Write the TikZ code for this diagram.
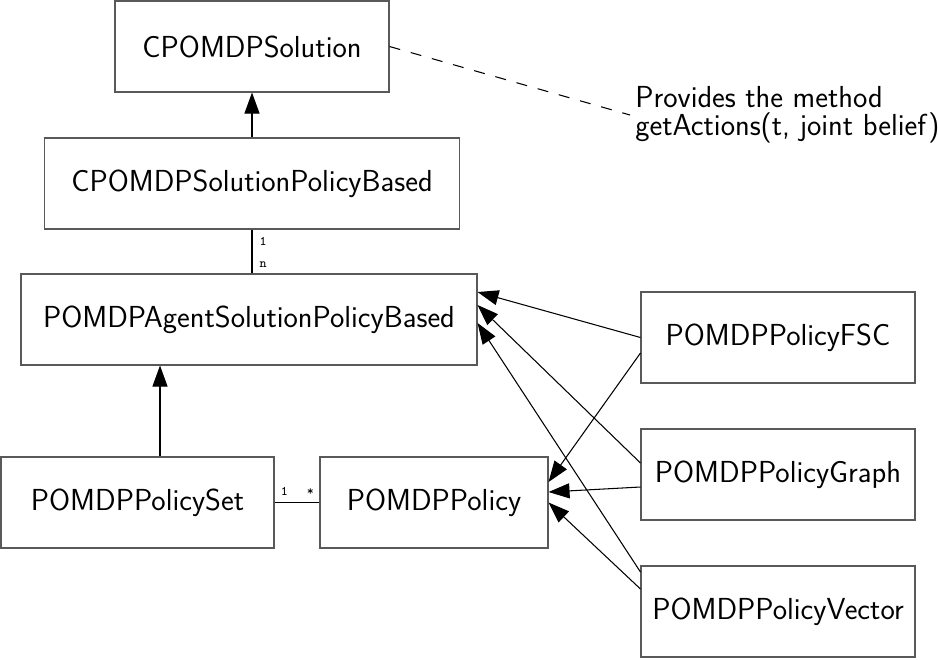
\documentclass[tikz,border=0pt]{standalone}
\usepackage{tikz}
\usetikzlibrary{arrows.meta}

\begin{document}
\begin{tikzpicture}[
        cls/.style={draw=black!65,line width=0.6pt,minimum height=1.82cm,inner sep=0pt,font=\fontsize{17.3}{18}\sffamily},
        inh/.style={-{Triangle[length=0.42cm,width=0.3cm]},line width=0.6pt},
        assoc/.style={line width=0.6pt},
        mult/.style={font=\fontsize{7.5}{8}\ttfamily,inner sep=0pt},
        remark/.style={font=\fontsize{17.3}{16}\sffamily,align=left,inner sep=0.1cm}
    ]
            \useasboundingbox (0,0) rectangle (18.76,-13.18);

            % classes
            \node[cls,minimum width=5.48cm] (sol) at (5.04,-0.93) {CPOMDPSolution};
            \node[cls,minimum width=8.3cm] (solpb) at (5.04,-3.67) {CPOMDPSolutionPolicyBased};
            \node[cls,minimum width=9.12cm] (agent) at (4.98,-6.39) {POMDPAgentSolutionPolicyBased};
            \node[cls,minimum width=5.46cm] (set) at (2.75,-10.05) {POMDPPolicySet};
            \node[cls,minimum width=4.56cm] (policy) at (8.68,-10.05) {POMDPPolicy};
            \node[cls,minimum width=5.48cm] (fsc) at (15.56,-6.75) {POMDPPolicyFSC};
            \node[cls,minimum width=5.48cm] (graph) at (15.56,-9.49) {POMDPPolicyGraph};
            \node[cls,minimum width=5.48cm] (vector) at (15.56,-12.23) {POMDPPolicyVector};

            \node[remark,anchor=west] (note) at (12.6,-2.3) {Provides the method\\getActions(t, joint belief)};
            \draw[line width=0.6pt,dash pattern=on 0.22cm off 0.22cm] (sol.east) -- (note.west);

            % hierarchy
            \draw[inh] (solpb.north) -- (solpb.north |- sol.south);
            \draw[assoc] (solpb.south) -- node[mult,pos=0.27,right=0.14cm] {1} node[mult,pos=0.8,right=0.14cm] {n} (solpb.south |- agent.north);
            \draw[inh] ([xshift=0.45cm]set.north) -- ([xshift=0.45cm]set.north |- agent.south);
            \draw[assoc] (set.east) -- node[mult,pos=0.22,above=0.12cm] {1} node[mult,pos=0.8,above=0.12cm] {*} (policy.west);

            % the three policies
            \draw[inh] (fsc.west) -- ([yshift=0.55cm]agent.east);
            \draw[inh] ([yshift=0.23cm]graph.west) -- ([yshift=0.29cm]agent.east);
            \draw[inh] ([yshift=0.79cm]vector.west) -- ([yshift=-0.07cm]agent.east);
            \draw[inh] ([yshift=-0.31cm]fsc.west) -- ([yshift=0.41cm]policy.east);
            \draw[inh] ([yshift=-0.25cm]graph.west) -- ([yshift=0.21cm]policy.east);
            \draw[inh] ([yshift=0.45cm]vector.west) -- (policy.east);
        \end{tikzpicture}
\end{document}
